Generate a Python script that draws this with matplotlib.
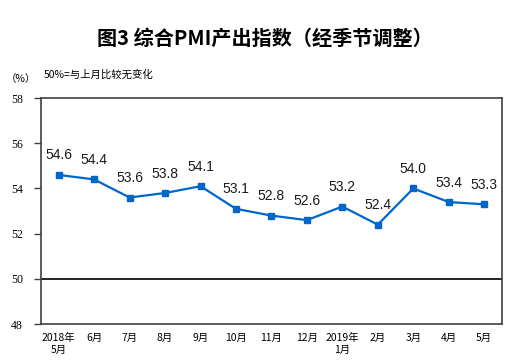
import numpy as np
import matplotlib.pyplot as plt

plt.rcParams['font.family'] = ['Noto Sans CJK SC', 'DejaVu Sans']

months = ['2018年\n5月', '6月', '7月', '8月', '9月', '10月', '11月', '12月',
          '2019年\n1月', '2月', '3月', '4月', '5月']
pmi = [54.6, 54.4, 53.6, 53.8, 54.1, 53.1, 52.8, 52.6, 53.2, 52.4, 54.0, 53.4, 53.3]
yticks = [48, 50, 52, 54, 56, 58]

fig = plt.figure(figsize=(5.18, 3.63), dpi=100)
ax = fig.add_axes([0.079, 0.107, 0.890, 0.623])

x = np.arange(len(pmi))
ax.plot(x, pmi, color='#0066CC', linewidth=1.6, marker='s', markersize=4)
for xi, v in zip(x, pmi):
    ax.annotate(f'{v:.1f}', (xi, v), xytext=(0, 14), textcoords='offset points',
                ha='center', va='center', fontsize=10, family='Liberation Sans',
                color='#1a1a1a')

ax.axhline(50, color='black', linewidth=1.2, zorder=1)

ax.set_xlim(-0.5, len(pmi) - 0.5)
ax.set_ylim(48, 58)
ax.set_yticks(yticks)
ax.set_yticklabels([str(t) for t in yticks], fontsize=8.5, family='Liberation Serif')
ax.set_xticks(x)
ax.set_xticklabels(months, fontsize=7.5, linespacing=1.3)
ax.tick_params(axis='x', length=0, pad=6)
ax.tick_params(axis='y', length=5, width=1, pad=8, color='#404040')
for s in ax.spines.values():
    s.set_color('#404040')
    s.set_linewidth(1.2)

fig.text(0.512, 0.895, '图3 综合PMI产出指数（经季节调整）', ha='center', va='center',
         fontsize=14.5, fontweight='bold')
fig.text(0.04, 0.782, '（%）', ha='center', va='center', fontsize=7.5)
fig.text(0.085, 0.795, '50%=与上月比较无变化', ha='left', va='center', fontsize=7.5)

fig.savefig('out.png', dpi=100)
